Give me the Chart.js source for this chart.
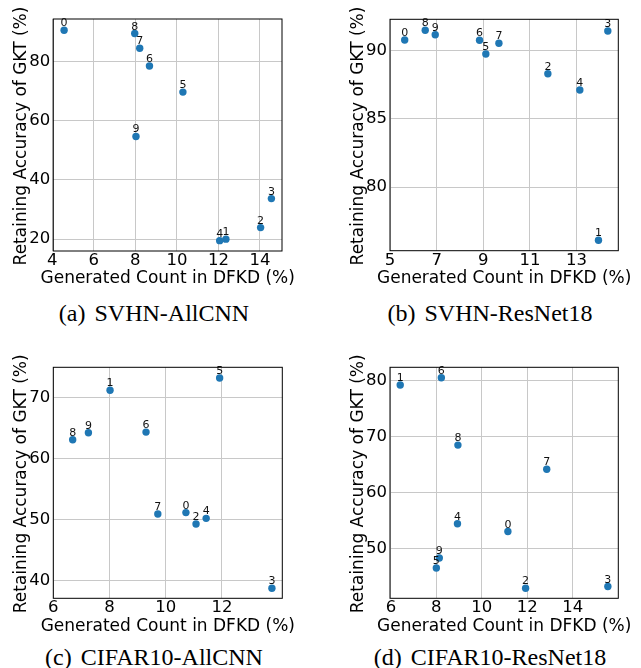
<!DOCTYPE html>
<html>
<head>
<meta charset="utf-8">
<script src="https://cdn.jsdelivr.net/npm/chart.js@4.4.1/dist/chart.umd.min.js"></script>
<style>
  html, body { margin: 0; padding: 0; background: #fff; }
  #wrap { position: relative; width: 641px; height: 668px; overflow: hidden; }
  canvas { position: absolute; }
  .cap {
    position: absolute;
    font-family: "Liberation Serif", "Times New Roman", serif;
    font-size: 24px;
    line-height: 24px;
    color: #000;
    white-space: nowrap;
    transform: translateX(-50%);
  }
  .cap span { padding-right: 3px; }
</style>
</head>
<body>
<div id="wrap">
  <canvas id="chartA" width="320" height="300" style="left:0;top:0"></canvas>
  <canvas id="chartB" width="321" height="300" style="left:320px;top:0"></canvas>
  <canvas id="chartC" width="320" height="300" style="left:0;top:340px"></canvas>
  <canvas id="chartD" width="321" height="300" style="left:320px;top:340px"></canvas>
  <div class="cap" style="left:154px;top:300.6px"><span>(a)</span> SVHN-AllCNN</div>
  <div class="cap" style="left:490px;top:300.6px"><span>(b)</span> SVHN-ResNet18</div>
  <div class="cap" style="left:154px;top:645px"><span>(c)</span> CIFAR10-AllCNN</div>
  <div class="cap" style="left:490px;top:645px"><span>(d)</span> CIFAR10-ResNet18</div>
</div>
<script>
  // class ids 0..9, shown as point labels
  const classIds = ["0", "1", "2", "3", "4", "5", "6", "7", "8", "9"];

  // (a) SVHN-AllCNN
  const svhnAllcnnX = [4.57, 12.36, 14.03, 14.55, 12.06, 10.29, 8.68, 8.21, 7.97, 8.03];
  const svhnAllcnnY = [90.6, 20.0, 23.9, 33.7, 19.5, 69.7, 78.5, 84.5, 89.5, 54.7];

  // (b) SVHN-ResNet18
  const svhnResnetX = [5.63, 13.94, 11.77, 14.34, 13.14, 9.11, 8.84, 9.67, 6.51, 6.94];
  const svhnResnetY = [90.78, 76.1, 88.31, 91.44, 87.12, 89.76, 90.76, 90.54, 91.5, 91.17];

  // (c) CIFAR10-AllCNN
  const cifarAllcnnX = [10.72, 8.02, 11.08, 13.78, 11.44, 11.92, 9.30, 9.72, 6.69, 7.25];
  const cifarAllcnnY = [51.1, 71.15, 49.23, 38.69, 50.16, 73.16, 64.3, 50.87, 63.05, 64.2];

  // (d) CIFAR10-ResNet18
  const cifarResnetX = [11.15, 6.41, 11.93, 15.55, 8.93, 8.0, 8.22, 12.86, 8.95, 8.13];
  const cifarResnetY = [53.1, 79.23, 43.0, 43.3, 54.5, 46.6, 80.53, 64.2, 68.52, 48.39];

  // tick values per panel
  const ticksAX = [4, 6, 8, 10, 12, 14], ticksAY = [20, 40, 60, 80];
  const ticksBX = [5, 7, 9, 11, 13],     ticksBY = [80, 85, 90];
  const ticksCX = [6, 8, 10, 12],        ticksCY = [40, 50, 60, 70];
  const ticksDX = [6, 8, 10, 12, 14],    ticksDY = [50, 60, 70, 80];

  const X_TITLE = "Generated Count in DFKD (%)";
  const Y_TITLE = "Retaining Accuracy of GKT (%)";
  const DOT = "#1f77b4";

  // frame + axis titles (drawn by hand so they are not squeezed to the plot width)
  const framePlugin = {
    id: "frame",
    afterDraw(chart) {
      const { ctx, chartArea: a } = chart;
      ctx.save();
      ctx.strokeStyle = "#000";
      ctx.lineWidth = 1;
      ctx.strokeRect(a.left, a.top, a.right - a.left, a.bottom - a.top);

      ctx.fillStyle = "#000";
      ctx.font = '17px "DejaVu Sans"';
      ctx.textAlign = "center";
      ctx.textBaseline = "alphabetic";
      ctx.fillText(X_TITLE, (a.left + a.right) / 2, a.bottom + 32.3);

      ctx.translate(a.left - 27.3, (a.top + a.bottom) / 2 + 1);
      ctx.rotate(-Math.PI / 2);
      ctx.fillText(Y_TITLE, 0, 0);
      ctx.restore();
    }
  };

  // class id above every dot
  const labelPlugin = {
    id: "pointLabels",
    afterDatasetsDraw(chart) {
      const ctx = chart.ctx;
      ctx.save();
      ctx.fillStyle = "#111";
      ctx.font = '11px "DejaVu Sans"';
      ctx.textAlign = "center";
      ctx.textBaseline = "alphabetic";
      chart.data.datasets.forEach((ds, i) => {
        chart.getDatasetMeta(i).data.forEach((pt, j) => {
          ctx.fillText(ds.pointLabels[j], pt.x, pt.y - 4);
        });
      });
      ctx.restore();
    }
  };

  function makePanel(id, xs, ys, xr, yr, xt, yt, box) {
    const points = xs.map((x, i) => ({ x: x, y: ys[i] }));
    new Chart(document.getElementById(id), {
      type: "scatter",
      data: {
        datasets: [{
          data: points,
          pointLabels: classIds,
          backgroundColor: DOT,
          borderColor: DOT,
          borderWidth: 0,
          pointRadius: 3.7,
          pointHoverRadius: 3.7
        }]
      },
      options: {
        responsive: false,
        animation: false,
        events: [],
        layout: { padding: { left: 0, top: box.top, right: box.right, bottom: 0 } },
        plugins: { legend: { display: false }, tooltip: { enabled: false } },
        scales: {
          x: {
            type: "linear",
            min: xr[0],
            max: xr[1],
            afterBuildTicks: axis => { axis.ticks = xt.map(v => ({ value: v })); },
            afterFit: axis => { axis.height = box.xh; },
            grid: { color: "#c8c8c8", lineWidth: 1, drawTicks: false },
            border: { display: false },
            ticks: { color: "#000", padding: 0, maxRotation: 0, font: { family: "DejaVu Sans", size: 16.5 } }
          },
          y: {
            type: "linear",
            min: yr[0],
            max: yr[1],
            afterBuildTicks: axis => { axis.ticks = yt.map(v => ({ value: v })); },
            afterFit: axis => { axis.width = box.yw; },
            grid: { color: "#c8c8c8", lineWidth: 1, drawTicks: false },
            border: { display: false },
            ticks: { color: "#000", padding: 3, font: { family: "DejaVu Sans", size: 16.5 } }
          }
        }
      },
      plugins: [framePlugin, labelPlugin]
    });
  }

  makePanel("chartA", svhnAllcnnX, svhnAllcnnY, [4.05, 15.06], [16.0, 94.4], ticksAX, ticksAY,
    { top: 19, right: 38, xh: 49, yw: 53.3 });
  makePanel("chartB", svhnResnetX, svhnResnetY, [5, 14.79], [75.33, 92.3], ticksBX, ticksBY,
    { top: 19.3, right: 22.7, xh: 49.3, yw: 70 });
  makePanel("chartC", cifarAllcnnX, cifarAllcnnY, [6, 14.15], [37.05, 74.92], ticksCX, ticksCY,
    { top: 27.3, right: 37.7, xh: 41.7, yw: 53.3 });
  makePanel("chartD", cifarResnetX, cifarResnetY, [5.96, 16.01], [41.2, 82.39], ticksDX, ticksDY,
    { top: 27.3, right: 22.7, xh: 41.7, yw: 70 });
</script>
</body>
</html>
